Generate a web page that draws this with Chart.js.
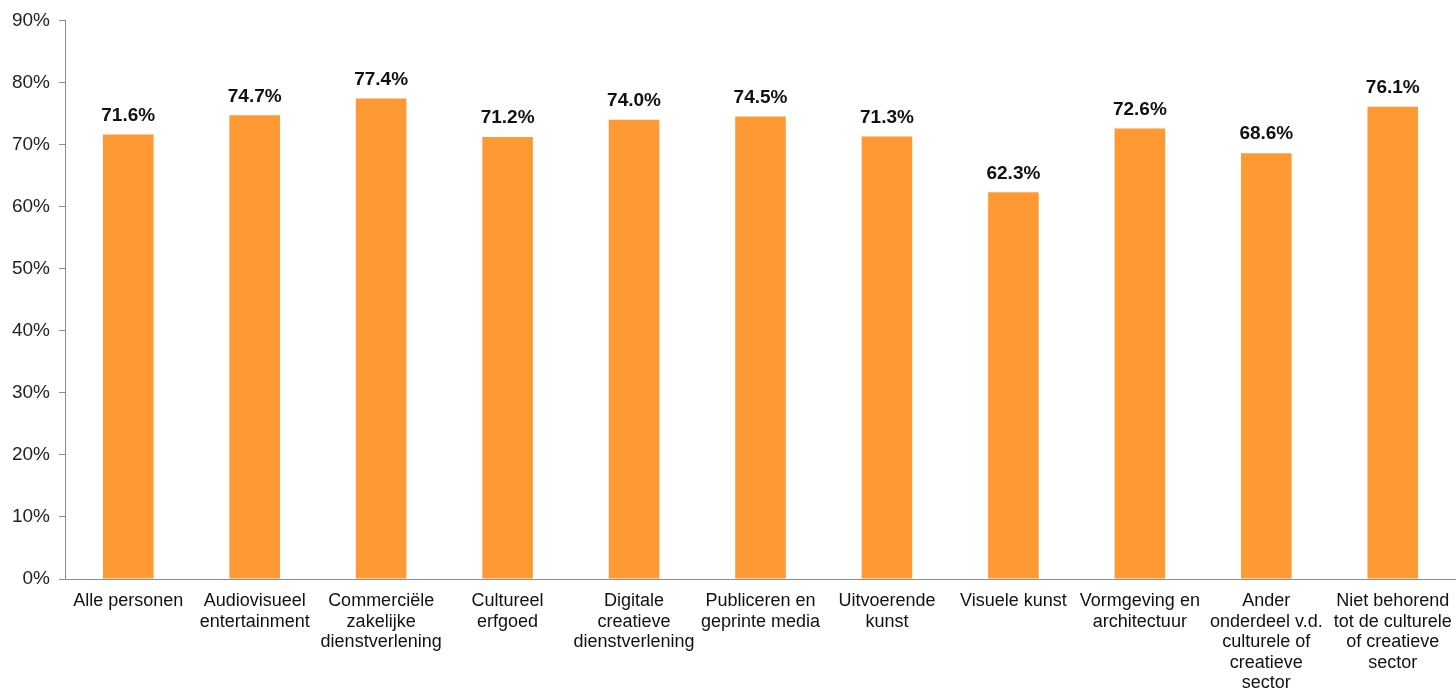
<!DOCTYPE html>
<html>
<head>
<meta charset="utf-8">
<script src="https://cdn.jsdelivr.net/npm/chart.js@4/dist/chart.umd.min.js"></script>
<style>
  html, body { margin: 0; padding: 0; background: #fff; }
  #wrap { width: 1456px; height: 692px; position: relative; }
</style>
</head>
<body>
<div id="wrap"><canvas id="chart"></canvas></div>
<script>
// Sector categories (multi-line labels)
const categories = [
  ['Alle personen'],
  ['Audiovisueel', 'entertainment'],
  ['Commerciële', 'zakelijke', 'dienstverlening'],
  ['Cultureel', 'erfgoed'],
  ['Digitale', 'creatieve', 'dienstverlening'],
  ['Publiceren en', 'geprinte media'],
  ['Uitvoerende', 'kunst'],
  ['Visuele kunst'],
  ['Vormgeving en', 'architectuur'],
  ['Ander', 'onderdeel v.d.', 'culturele of', 'creatieve', 'sector'],
  ['Niet behorend', 'tot de culturele', 'of creatieve', 'sector']
];

// Share per sector, in percent
const shares = [71.6, 74.7, 77.4, 71.2, 74.0, 74.5, 71.3, 62.3, 72.6, 68.6, 76.1];

// Y-axis tick values
const yTicks = [0, 10, 20, 30, 40, 50, 60, 70, 80, 90];

const FONT = '"Liberation Sans", Arial, sans-serif';

// Draws the value above each bar, from the bar element's own position
const valueLabels = {
  id: 'valueLabels',
  afterDatasetsDraw(chart) {
    const ctx = chart.ctx;
    const meta = chart.getDatasetMeta(0);
    ctx.save();
    ctx.font = 'bold 19px ' + FONT;
    ctx.fillStyle = '#111';
    ctx.textAlign = 'center';
    ctx.textBaseline = 'middle';
    meta.data.forEach((bar, i) => {
      ctx.fillText(shares[i].toFixed(1) + '%', bar.x, bar.y - 19);
    });
    ctx.restore();
  }
};

new Chart(document.getElementById('chart'), {
  type: 'bar',
  data: {
    labels: categories,
    datasets: [{
      data: shares,
      backgroundColor: '#FF9933',
      borderWidth: 0,
      categoryPercentage: 1.0,
      barPercentage: 0.4
    }]
  },
  options: {
    responsive: true,
    maintainAspectRatio: false,
    animation: false,
    layout: { padding: { top: 20, right: 0, left: 0, bottom: 0 } },
    plugins: {
      legend: { display: false },
      tooltip: { enabled: false }
    },
    scales: {
      x: {
        grid: { display: false, drawTicks: false },
        border: { display: true, color: '#8c8c8c', width: 1 },
        ticks: {
          color: '#111',
          font: { family: FONT, size: 18, lineHeight: 1.14 },
          padding: 12,
          maxRotation: 0,
          autoSkip: false
        },
        afterFit(scale) {
          scale.height = 113;
          scale.paddingLeft = 0;
          scale.paddingRight = 0;
        }
      },
      y: {
        min: 0,
        max: 90,
        afterBuildTicks(scale) { scale.ticks = yTicks.map(v => ({ value: v })); },
        grid: { drawOnChartArea: false, drawTicks: true, tickLength: 6, color: '#8c8c8c' },
        border: { display: true, color: '#8c8c8c', width: 1 },
        ticks: {
          color: '#222',
          font: { family: FONT, size: 19 },
          padding: 9,
          callback: v => v + '%'
        },
        afterFit(scale) { scale.width = 65; }
      }
    }
  },
  plugins: [valueLabels]
});
</script>
</body>
</html>
